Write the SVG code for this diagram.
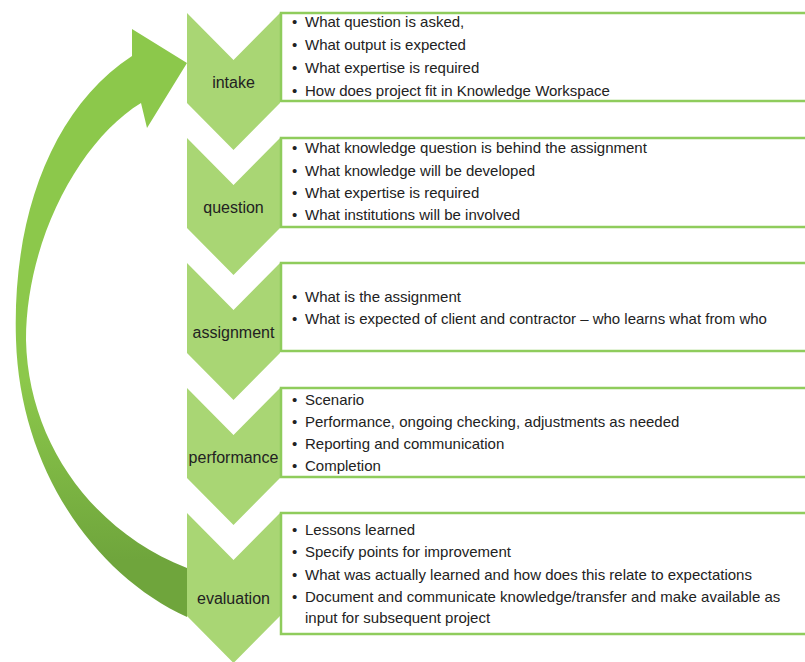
<svg xmlns="http://www.w3.org/2000/svg" width="805" height="662" viewBox="0 0 805 662">
  <style>
    .chev { fill: #a9d674; }
    .box { fill: #ffffff; stroke: #8fcc5c; stroke-width: 2.5; }
    .label { font-family: "Liberation Sans", Arial, sans-serif; font-size: 16px; fill: #222; text-anchor: middle; }
    .item { font-family: "Liberation Sans", Arial, sans-serif; font-size: 15px; fill: #222; }
  </style>
  <defs>
    <linearGradient id="loopGrad" gradientUnits="userSpaceOnUse" x1="0" y1="380" x2="0" y2="560">
      <stop offset="0" stop-color="#8cc84b"/>
      <stop offset="1" stop-color="#6fa53c"/>
    </linearGradient>
    <!-- chevron step: 93 wide, 137 tall, 47 deep notch -->
    <path id="chevron" d="M0,0 L46.5,47 L93,0 L93,90 L46.5,137 L0,90 Z"/>
    <path id="chevronTall" d="M0,0 L46.5,47 L93,0 L93,103 L46.5,150 L0,103 Z"/>
  </defs>

  <!-- return loop from evaluation back to intake -->
  <g id="connectors">
    <path fill="url(#loopGrad)" d="M187,617 C95,575 20,470 16,340 C12,220 50,110 132,56 L132,29 L187,63 L147,128 L141,103 C80,140 26,240 26,340 C28,440 90,530 187,568 Z"/>
  </g>

  <g id="intake">
    <use href="#chevron" class="chev" x="187" y="13"/>
    <rect class="box" x="281" y="13" width="530" height="88"/>
    <text class="label" x="233.5" y="88">intake</text>
    <text class="item" x="292" y="27">•<tspan x="305">What question is asked,</tspan></text>
    <text class="item" x="292" y="50">•<tspan x="305">What output is expected</tspan></text>
    <text class="item" x="292" y="73">•<tspan x="305">What expertise is required</tspan></text>
    <text class="item" x="292" y="96">•<tspan x="305">How does project fit in Knowledge Workspace</tspan></text>
  </g>

  <g id="question">
    <use href="#chevron" class="chev" x="187" y="138"/>
    <rect class="box" x="281" y="138" width="530" height="89"/>
    <text class="label" x="233.5" y="213">question</text>
    <text class="item" x="292" y="153">•<tspan x="305">What knowledge question is behind the assignment</tspan></text>
    <text class="item" x="292" y="176">•<tspan x="305">What knowledge will be developed</tspan></text>
    <text class="item" x="292" y="198">•<tspan x="305">What expertise is required</tspan></text>
    <text class="item" x="292" y="220">•<tspan x="305">What institutions will be involved</tspan></text>
  </g>

  <g id="assignment">
    <use href="#chevron" class="chev" x="187" y="263"/>
    <rect class="box" x="281" y="263" width="530" height="88"/>
    <text class="label" x="233.5" y="338">assignment</text>
    <text class="item" x="292" y="302">•<tspan x="305">What is the assignment</tspan></text>
    <text class="item" x="292" y="324">•<tspan x="305">What is expected of client and contractor – who learns what from who</tspan></text>
  </g>

  <g id="performance">
    <use href="#chevron" class="chev" x="187" y="388"/>
    <rect class="box" x="281" y="388" width="530" height="89"/>
    <text class="label" x="233.5" y="463">performance</text>
    <text class="item" x="292" y="405">•<tspan x="305">Scenario</tspan></text>
    <text class="item" x="292" y="427">•<tspan x="305">Performance, ongoing checking, adjustments as needed</tspan></text>
    <text class="item" x="292" y="449">•<tspan x="305">Reporting and communication</tspan></text>
    <text class="item" x="292" y="471">•<tspan x="305">Completion</tspan></text>
  </g>

  <g id="evaluation">
    <use href="#chevronTall" class="chev" x="187" y="513"/>
    <rect class="box" x="281" y="513" width="530" height="121"/>
    <text class="label" x="233.5" y="604">evaluation</text>
    <text class="item" x="292" y="535">•<tspan x="305">Lessons learned</tspan></text>
    <text class="item" x="292" y="557">•<tspan x="305">Specify points for improvement</tspan></text>
    <text class="item" x="292" y="580">•<tspan x="305">What was actually learned and how does this relate to expectations</tspan></text>
    <text class="item" x="292" y="602">•<tspan x="305">Document and communicate knowledge/transfer and make available as</tspan></text>
    <text class="item" x="305" y="623">input for subsequent project</text>
  </g>
</svg>
